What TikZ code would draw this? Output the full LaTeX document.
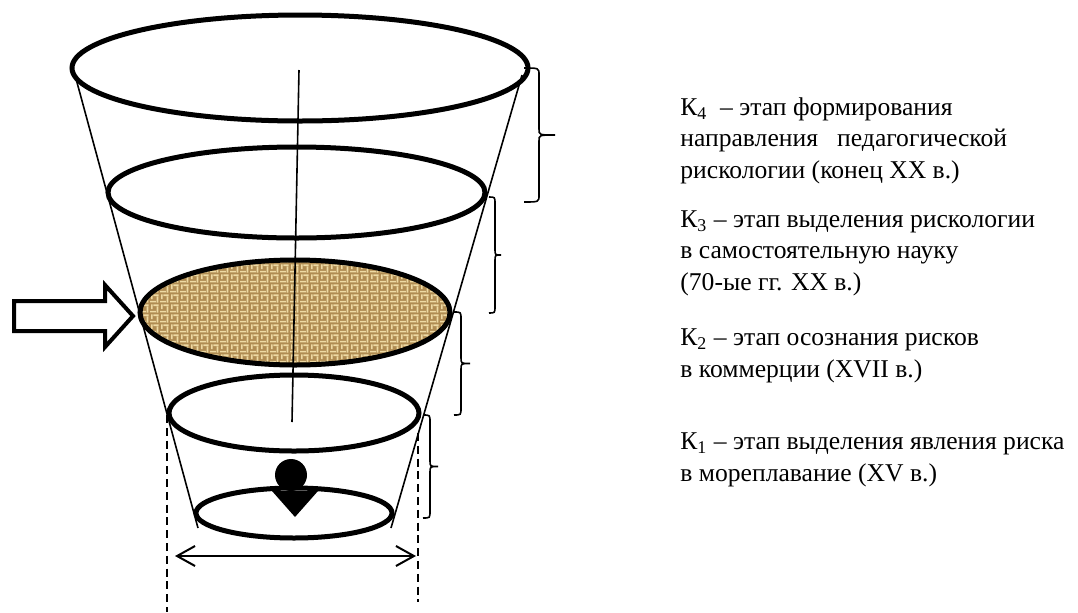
\documentclass[tikz,border=0pt]{standalone}
\usepackage{fontspec}
\setmainfont{Liberation Serif}
\usepackage{tikz}
\usetikzlibrary{arrows.meta,patterns}
\definecolor{burlap}{RGB}{176,140,82}
\definecolor{burlapweave}{RGB}{238,218,164}
\pgfdeclarepatternformonly{weave}{\pgfqpoint{0pt}{0pt}}{\pgfqpoint{5pt}{5pt}}{\pgfqpoint{5pt}{5pt}}{
    \pgfpathrectangle{\pgfqpoint{0pt}{0.3pt}}{\pgfqpoint{3.2pt}{0.9pt}}
    \pgfpathrectangle{\pgfqpoint{3.7pt}{0.2pt}}{\pgfqpoint{0.9pt}{3.3pt}}
    \pgfpathrectangle{\pgfqpoint{0.6pt}{2.1pt}}{\pgfqpoint{0.9pt}{2.6pt}}
    \pgfpathrectangle{\pgfqpoint{1.9pt}{3.8pt}}{\pgfqpoint{2.8pt}{0.9pt}}
    \pgfusepath{fill}}
\tikzset{
    ring/.style={line width=2.5pt},
    funnelside/.style={line width=0.8pt},
    bracepath/.style={line width=0.8pt},
    stagetext/.style={anchor=base west,inner sep=0pt,align=left,
        font=\fontsize{12.8}{15.6}\selectfont},
    widthline/.style={dash pattern=on 4pt off 2.4pt,line width=0.8pt}
}
\newcommand{\stagebrace}[5]{%
    \draw[bracepath] (#2,#4) .. controls (#1,#4) .. (#1,{#4+7})
        -- (#1,{(#4+#5)/2-6}) .. controls (#1,{(#4+#5)/2}) .. (#3,{(#4+#5)/2})
        .. controls (#1,{(#4+#5)/2}) .. (#1,{(#4+#5)/2+6})
        -- (#1,{#5-7}) .. controls (#1,#5) .. (#2,#5);}

\begin{document}
\begin{tikzpicture}[x=0.5pt,y=-0.5pt]
\useasboundingbox (0,0) rectangle (1078,612);

\fill[burlap] (295,312.5) ellipse [x radius=155, y radius=52.5];
\fill[pattern=weave,pattern color=burlapweave] (295,312.5) ellipse [x radius=155, y radius=52.5];

\draw[ring] (300,68) ellipse [x radius=228, y radius=53];
\draw[ring] (296.5,192.5) ellipse [x radius=188.5, y radius=45.5];
\draw[ring] (295,312.5) ellipse [x radius=155, y radius=52.5];
\draw[ring] (294,413) ellipse [x radius=125, y radius=38];
\draw[ring] (294,513) ellipse [x radius=98, y radius=25];

\draw[funnelside] (75,75) -- (198,528);
\draw[funnelside] (522,75) -- (391,528);
\draw[funnelside] (299,70) -- (292,422);

\draw[line width=2pt,line join=miter]
    (14,301) -- (105,301) -- (105,285) -- (133,316) -- (105,347) -- (105,331) -- (14,331) -- cycle;

\fill (291,475) circle [radius=16];
\fill (272,491) -- (318,491) -- (295,517) -- cycle;

\coordinate (wl) at (167,415);
\coordinate (wr) at (418,433);
\draw[widthline] (wl) -- (167,612);
\draw[widthline] (wr) -- (418,602);
\coordinate (al) at (175,556);
\coordinate (ar) at (416,556);
\draw[{Straight Barb[length=9pt,width=10pt]}-{Straight Barb[length=9pt,width=10pt]},line width=1pt] (al) -- (ar);

\stagebrace{539}{524}{555}{68}{202}
\stagebrace{495}{489}{501}{197}{313}
\stagebrace{461}{454}{470}{312}{415}
\stagebrace{430}{423}{438}{415}{518}

\node[stagetext] (k4) at (680,178)
    {К\textsubscript{4}\ \ – этап формирования\\направления\ \ \ педагогической\\рискологии (конец XX в.)};
\node[stagetext] (k3) at (680,290)
    {К\textsubscript{3} – этап выделения рискологии\\в самостоятельную науку\\(70-ые гг. XX в.)};
\node[stagetext] (k2) at (680,377)
    {К\textsubscript{2} – этап осознания рисков\\в коммерции (XVII в.)};
\node[stagetext] (k1) at (680,481)
    {К\textsubscript{1} – этап выделения явления риска\\в мореплавание (XV в.)};
\end{tikzpicture}
\end{document}
